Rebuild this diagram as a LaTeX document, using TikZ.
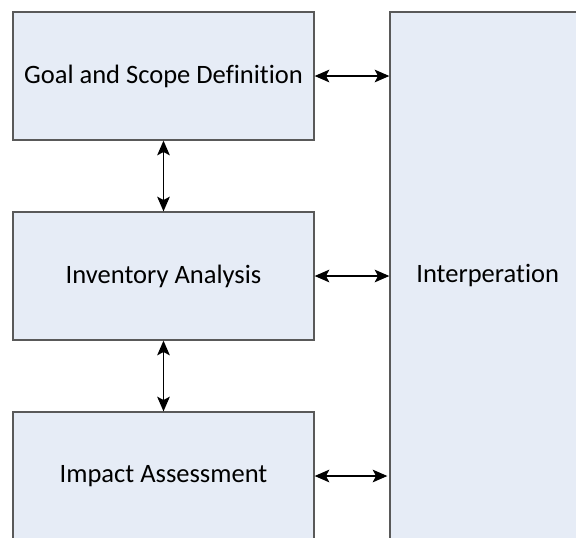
\documentclass[tikz,border=0pt]{standalone}
\usepackage{fontspec}
\setmainfont[Ligatures=NoCommon]{Carlito}
\usetikzlibrary{arrows.meta}

\tikzset{every picture/.style={line width=0.75pt}}
\tikzset{
	stagebox/.style={draw={rgb, 255:red, 89; green, 89; blue, 89 }, line width=1pt, fill={rgb, 255:red, 230; green, 236; blue, 246 }, minimum width=225.75pt, minimum height=96pt, inner sep=0pt, font=\fontsize{19.9}{24}\selectfont},
	linkarrow/.style={{Stealth[length=11pt,width=9.5pt,inset=2.5pt]}-{Stealth[length=11pt,width=9.5pt,inset=2.5pt]}, line width=0.9pt}
}

\begin{document}
\begin{tikzpicture}[x=0.75pt,y=0.75pt,yscale=-1,xscale=1]
	\path[use as bounding box] (0,0) rectangle (576,537);
	\clip (0,0) rectangle (576,537);

	%Shape: Rectangle [goal]
	\node[stagebox] (goal) at (163.5,76) {Goal and Scope Definition};
	%Shape: Rectangle [inventory]
	\node[stagebox] (inventory) at (163.5,276) {Inventory Analysis};
	%Shape: Rectangle [impact]
	\node[stagebox] (impact) at (163.5,476) {Impact Assessment};
	%Shape: Rectangle [interp]
	\node[stagebox, minimum width=142.5pt, minimum height=396pt] (interp) at (485,276) {\hspace{4pt}Interperation};

	%Straight Lines
	\draw[linkarrow] (goal.south) -- (inventory.north);
	\draw[linkarrow] (inventory.south) -- (impact.north);
	%Straight Lines
	\draw[linkarrow] (goal.east) -- (goal.east -| interp.west);
	\draw[linkarrow] (inventory.east) -- (inventory.east -| interp.west);
	\draw[linkarrow] (impact.east) -- ([xshift=-1.5pt]impact.east -| interp.west);

\end{tikzpicture}
\end{document}
